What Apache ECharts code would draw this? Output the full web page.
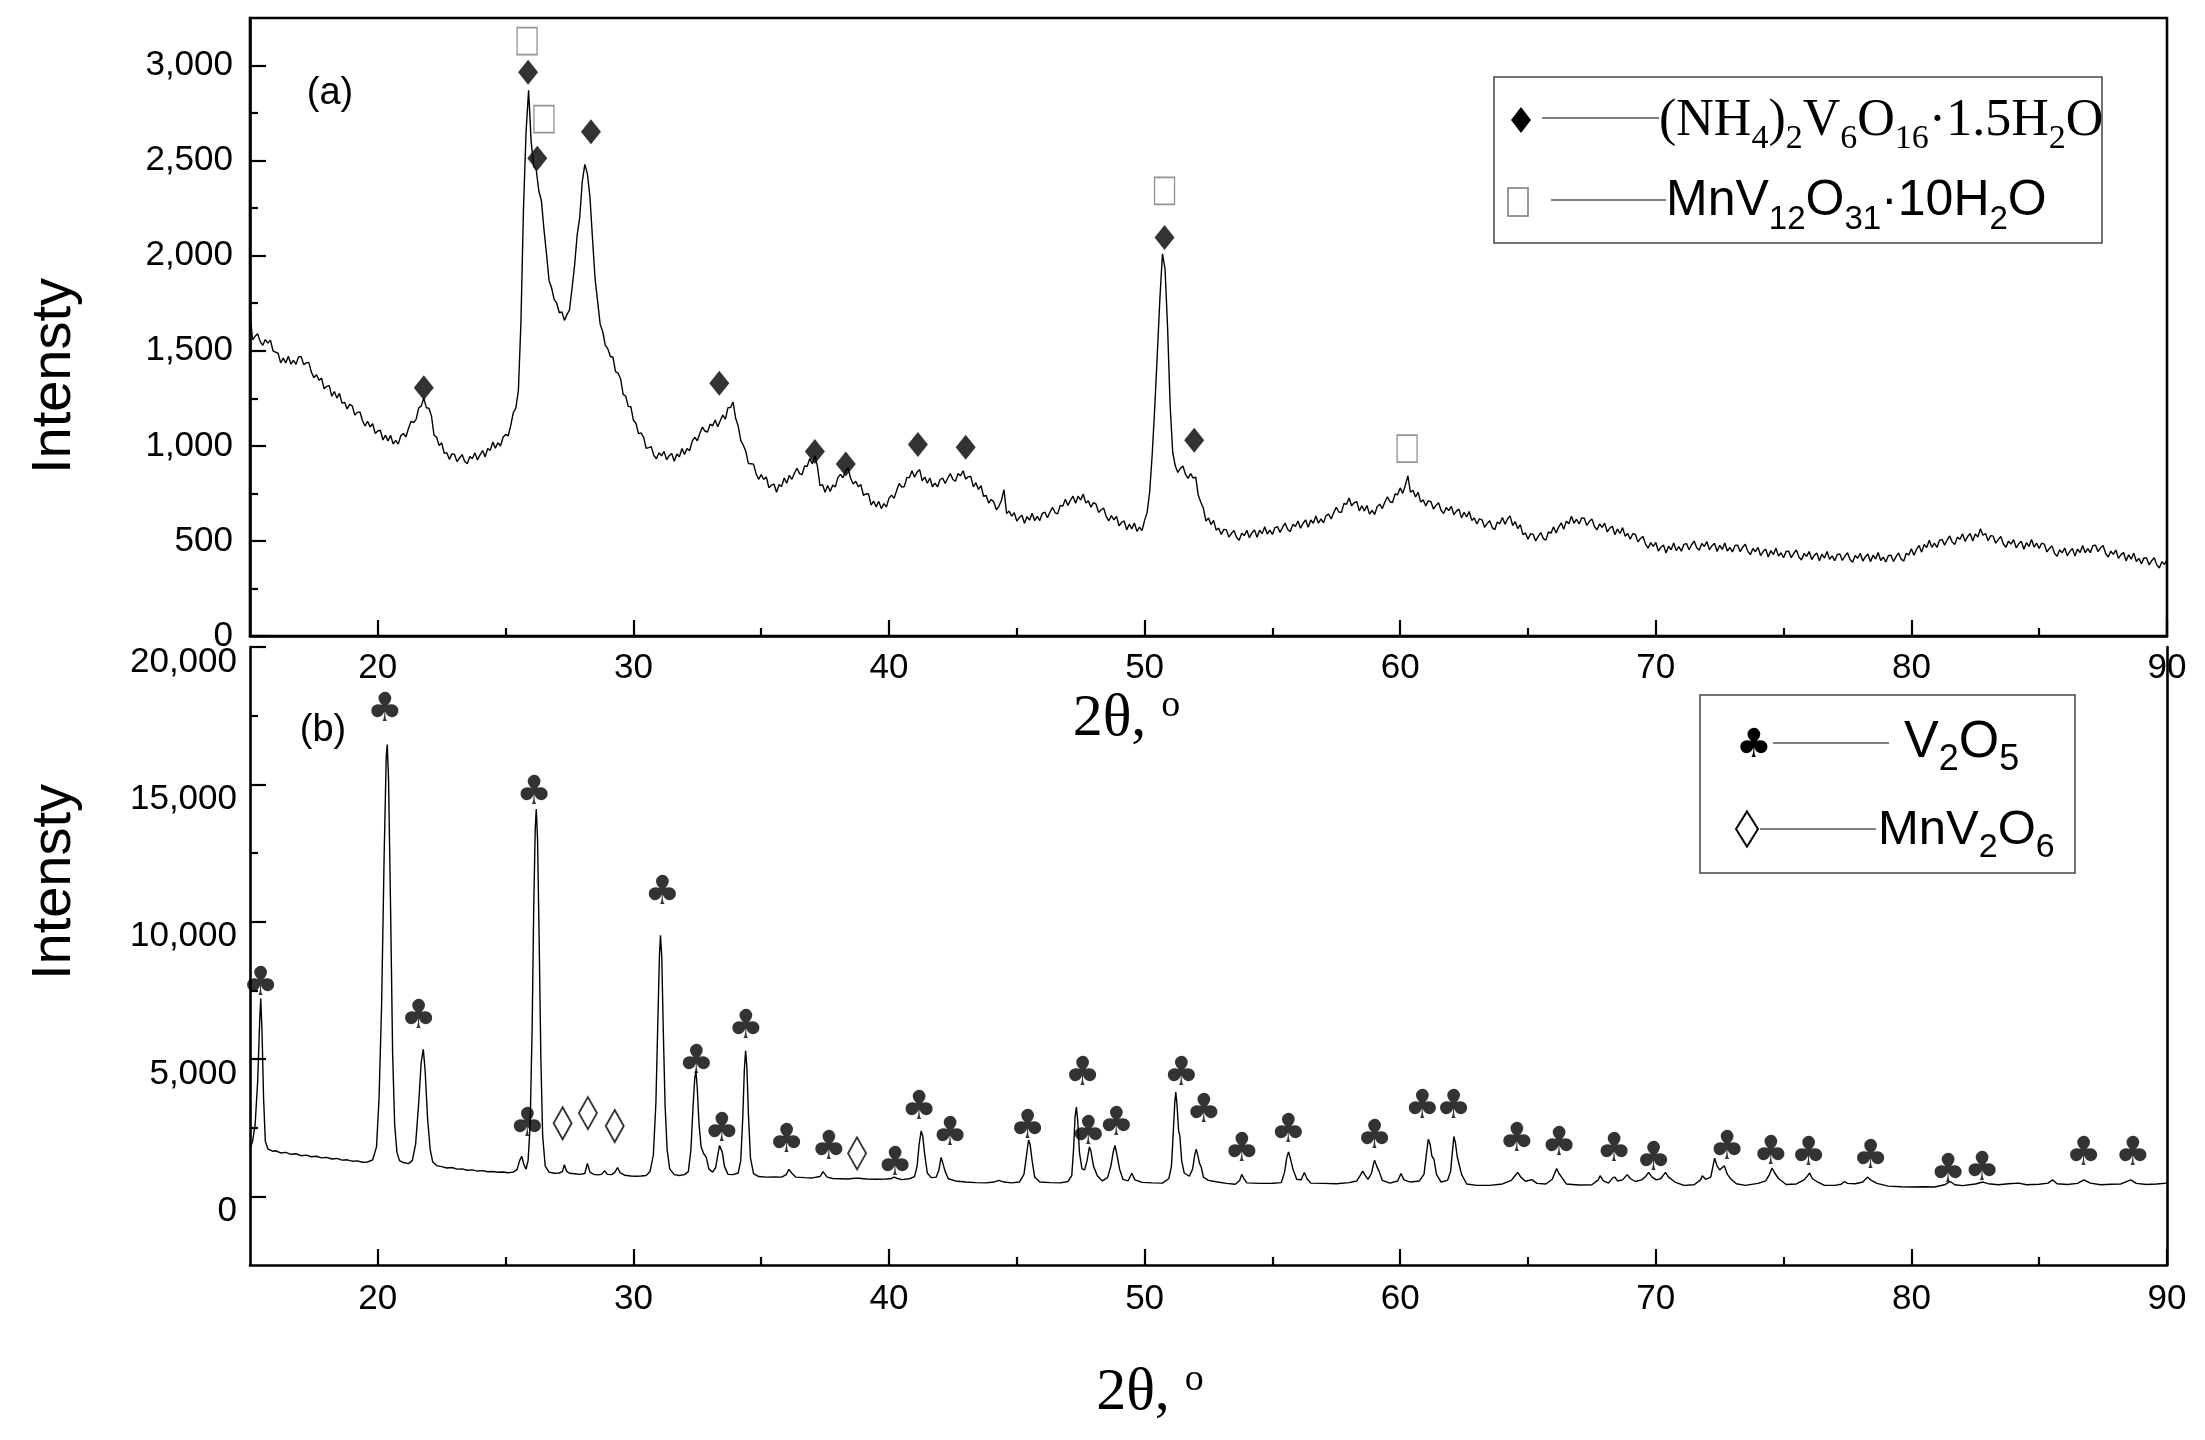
<!DOCTYPE html>
<html>
<head>
<meta charset="utf-8">
<title>XRD patterns (a) and (b)</title>
<script src="https://cdn.jsdelivr.net/npm/echarts@6.0.0/dist/echarts.min.js"></script>
<style>
  html, body { margin: 0; padding: 0; background: #fff; }
  #chart { width: 2205px; height: 1440px; }
</style>
</head>
<body>
<div id="chart"></div>
<script>
// data: (a) scan, [2theta, intensity]
const patternA = [
  [15.0,1700],[15.1,1557],[15.2,1576],[15.3,1589],[15.4,1548],[15.5,1529],[15.6,1559],[15.7,1540],[15.8,1556],[15.9,1500],
  [16.0,1493],[16.1,1487],[16.2,1436],[16.3,1461],[16.4,1436],[16.5,1471],[16.6,1430],[16.7,1449],[16.8,1429],[16.9,1468],
  [17.0,1470],[17.1,1427],[17.2,1436],[17.3,1439],[17.4,1388],[17.5,1359],[17.6,1374],[17.7,1345],[17.8,1356],[17.9,1300],
  [18.0,1313],[18.1,1317],[18.2,1261],[18.3,1286],[18.4,1251],[18.5,1276],[18.6,1225],[18.7,1229],[18.8,1194],[18.9,1218],
  [19.0,1210],[19.1,1162],[19.2,1176],[19.3,1179],[19.4,1133],[19.5,1104],[19.6,1129],[19.7,1100],[19.8,1116],[19.9,1065],
  [20.0,1078],[20.1,1082],[20.2,1031],[20.3,1056],[20.4,1026],[20.5,1056],[20.6,1010],[20.7,1029],[20.8,1009],[20.9,1053],
  [21.0,1065],[21.1,1047],[21.2,1091],[21.3,1129],[21.4,1123],[21.5,1139],[21.6,1199],[21.7,1210],[21.8,1251],[21.9,1200],
  [22.0,1198],[22.1,1157],[22.2,1056],[22.3,1046],[22.4,1001],[22.5,1016],[22.6,960],[22.7,964],[22.8,929],[22.9,958],
  [23.0,955],[23.1,917],[23.2,936],[23.3,954],[23.4,918],[23.5,906],[23.6,944],[23.7,933],[23.8,963],[23.9,926],
  [24.0,953],[24.1,975],[24.2,942],[24.3,986],[24.4,976],[24.5,1020],[24.6,988],[24.7,1016],[24.8,999],[24.9,1045],
  [25.0,1060],[25.1,1052],[25.2,1106],[25.3,1174],[25.4,1198],[25.5,1290],[25.6,1650],[25.7,2250],[25.8,2650],[25.9,2870],
  [26.0,2600],[26.1,2470],[26.2,2450],[26.3,2340],[26.4,2290],[26.5,2140],[26.6,2010],[26.7,1870],[26.8,1830],[26.9,1770],
  [27.0,1750],[27.1,1700],[27.2,1705],[27.3,1660],[27.4,1690],[27.5,1715],[27.6,1830],[27.7,1950],[27.8,2110],[27.9,2200],
  [28.0,2390],[28.1,2480],[28.2,2430],[28.3,2310],[28.4,2090],[28.5,1880],[28.6,1760],[28.7,1640],[28.8,1600],[28.9,1530],
  [29.0,1510],[29.1,1470],[29.2,1466],[29.3,1390],[29.4,1383],[29.5,1352],[29.6,1271],[29.7,1261],[29.8,1206],[29.9,1206],
  [30.0,1135],[30.1,1119],[30.2,1064],[30.3,1068],[30.4,1045],[30.5,987],[30.6,991],[30.7,996],[30.8,950],[30.9,932],
  [31.0,964],[31.1,947],[31.2,971],[31.3,927],[31.4,948],[31.5,960],[31.6,919],[31.7,957],[31.8,943],[31.9,986],
  [32.0,955],[32.1,986],[32.2,974],[32.3,1025],[32.4,1045],[32.5,1027],[32.6,1066],[32.7,1099],[32.8,1078],[32.9,1072],
  [33.0,1114],[33.1,1105],[33.2,1136],[33.3,1100],[33.4,1133],[33.5,1162],[33.6,1141],[33.7,1201],[33.8,1201],[33.9,1231],
  [34.0,1145],[34.1,1104],[34.2,1029],[34.3,1003],[34.4,970],[34.5,907],[34.6,906],[34.7,904],[34.8,853],[34.9,824],
  [35.0,849],[35.1,823],[35.2,836],[35.3,780],[35.4,793],[35.5,799],[35.6,756],[35.7,796],[35.8,786],[35.9,831],
  [36.0,803],[36.1,845],[36.2,824],[36.3,856],[36.4,882],[36.5,854],[36.6,849],[36.7,894],[36.8,893],[36.9,933],
  [37.0,905],[37.1,948],[37.2,892],[37.3,791],[37.4,796],[37.5,756],[37.6,791],[37.7,760],[37.8,794],[37.9,784],
  [38.0,833],[38.1,850],[38.2,832],[38.3,868],[38.4,884],[38.5,828],[38.6,799],[38.7,814],[38.8,785],[38.9,796],
  [39.0,740],[39.1,748],[39.2,747],[39.3,688],[39.4,709],[39.5,679],[39.6,708],[39.7,670],[39.8,696],[39.9,679],
  [40.0,725],[40.1,740],[40.2,724],[40.3,766],[40.4,802],[40.5,783],[40.6,786],[40.7,834],[40.8,833],[40.9,869],
  [41.0,835],[41.1,863],[41.2,875],[41.3,816],[41.4,836],[41.5,803],[41.6,831],[41.7,785],[41.8,804],[41.9,784],
  [42.0,823],[42.1,830],[42.2,802],[42.3,831],[42.4,854],[42.5,823],[42.6,814],[42.7,854],[42.8,843],[42.9,869],
  [43.0,825],[43.1,838],[43.2,839],[43.3,784],[43.4,806],[43.5,771],[43.6,791],[43.7,735],[43.8,739],[43.9,699],
  [44.0,718],[44.1,705],[44.2,664],[44.3,682],[44.4,714],[44.5,770],[44.6,644],[44.7,657],[44.8,630],[44.9,649],
  [45.0,604],[45.1,623],[45.2,635],[45.3,593],[45.4,628],[45.5,609],[45.6,646],[45.7,607],[45.8,629],[45.9,607],
  [46.0,645],[46.1,651],[46.2,622],[46.3,652],[46.4,676],[46.5,648],[46.6,642],[46.7,687],[46.8,683],[46.9,719],
  [47.0,686],[47.1,715],[47.2,735],[47.3,698],[47.4,736],[47.5,715],[47.6,746],[47.7,699],[47.8,711],[47.9,677],
  [48.0,701],[48.1,693],[48.2,650],[48.3,664],[48.4,672],[48.5,628],[48.6,606],[48.7,633],[48.8,611],[48.9,629],
  [49.0,580],[49.1,597],[49.2,605],[49.3,558],[49.4,588],[49.5,563],[49.6,594],[49.7,550],[49.8,572],[49.9,554],
  [50.0,608],[50.1,650],[50.2,760],[50.3,960],[50.4,1210],[50.5,1490],[50.6,1780],[50.7,2010],[50.8,1930],[50.9,1620],
  [51.0,1210],[51.1,965],[51.2,895],[51.3,860],[51.4,881],[51.5,894],[51.6,850],[51.7,829],[51.8,854],[51.9,830],
  [52.0,836],[52.1,740],[52.2,703],[52.3,672],[52.4,604],[52.5,621],[52.6,586],[52.7,608],[52.8,557],[52.9,567],
  [53.0,534],[53.1,561],[53.2,558],[53.3,520],[53.4,540],[53.5,555],[53.6,518],[53.7,504],[53.8,540],[53.9,528],
  [54.0,556],[54.1,517],[54.2,542],[54.3,558],[54.4,519],[54.5,556],[54.6,538],[54.7,575],[54.8,536],[54.9,557],
  [55.0,534],[55.1,570],[55.2,575],[55.3,545],[55.4,572],[55.5,593],[55.6,560],[55.7,549],[55.8,587],[55.9,576],
  [56.0,605],[56.1,567],[56.2,593],[56.3,610],[56.4,572],[56.5,610],[56.6,593],[56.7,631],[56.8,593],[56.9,616],
  [57.0,595],[57.1,633],[57.2,641],[57.3,616],[57.4,649],[57.5,677],[57.6,652],[57.7,650],[57.8,697],[57.9,693],
  [58.0,726],[58.1,685],[58.2,701],[58.3,707],[58.4,658],[58.5,685],[58.6,657],[58.7,686],[58.8,641],[58.9,660],
  [59.0,639],[59.1,681],[59.2,693],[59.3,670],[59.4,704],[59.5,732],[59.6,706],[59.7,702],[59.8,747],[59.9,743],
  [60.0,779],[60.1,750],[60.2,793],[60.3,842],[60.4,756],[60.5,766],[60.6,731],[60.7,756],[60.8,705],[60.9,716],
  [61.0,684],[61.1,711],[61.2,707],[61.3,668],[61.4,687],[61.5,701],[61.6,661],[61.7,644],[61.8,676],[61.9,659],
  [62.0,682],[62.1,638],[62.2,657],[62.3,667],[62.4,621],[62.5,651],[62.6,626],[62.7,655],[62.8,608],[62.9,621],
  [63.0,589],[63.1,616],[63.2,611],[63.3,572],[63.4,591],[63.5,606],[63.6,570],[63.7,559],[63.8,599],[63.9,591],
  [64.0,623],[64.1,588],[64.2,615],[64.3,632],[64.4,581],[64.5,601],[64.6,565],[64.7,586],[64.8,533],[64.9,542],
  [65.0,509],[65.1,537],[65.2,535],[65.3,500],[65.4,524],[65.5,544],[65.6,512],[65.7,504],[65.8,547],[65.9,541],
  [66.0,575],[66.1,542],[66.2,573],[66.3,595],[66.4,562],[66.5,604],[66.6,590],[66.7,630],[66.8,593],[66.9,614],
  [67.0,589],[67.1,621],[67.2,619],[67.3,582],[67.4,602],[67.5,616],[67.6,576],[67.7,558],[67.8,589],[67.9,571],
  [68.0,593],[68.1,548],[68.2,567],[68.3,577],[68.4,532],[68.5,563],[68.6,539],[68.7,570],[68.8,525],[68.9,539],
  [69.0,509],[69.1,538],[69.2,534],[69.3,495],[69.4,513],[69.5,524],[69.6,482],[69.7,462],[69.8,491],[69.9,471],
  [70.0,492],[70.1,447],[70.2,467],[70.3,479],[70.4,437],[70.5,472],[70.6,453],[70.7,489],[70.8,449],[70.9,470],
  [71.0,446],[71.1,482],[71.2,486],[71.3,454],[71.4,480],[71.5,499],[71.6,464],[71.7,451],[71.8,486],[71.9,471],
  [72.0,496],[72.1,454],[72.2,475],[72.3,487],[72.4,444],[72.5,477],[72.6,455],[72.7,489],[72.8,447],[72.9,466],
  [73.0,442],[73.1,476],[73.2,478],[73.3,444],[73.4,467],[73.5,483],[73.6,445],[73.7,428],[73.8,460],[73.9,443],
  [74.0,466],[74.1,423],[74.2,444],[74.3,457],[74.4,415],[74.5,449],[74.6,428],[74.7,462],[74.8,420],[74.9,438],
  [75.0,412],[75.1,445],[75.2,446],[75.3,412],[75.4,435],[75.5,452],[75.6,415],[75.7,400],[75.8,434],[75.9,419],
  [76.0,444],[76.1,402],[76.2,424],[76.3,437],[76.4,396],[76.5,430],[76.6,410],[76.7,444],[76.8,403],[76.9,421],
  [77.0,396],[77.1,429],[77.2,431],[77.3,397],[77.4,421],[77.5,438],[77.6,402],[77.7,388],[77.8,423],[77.9,409],
  [78.0,435],[78.1,394],[78.2,417],[78.3,431],[78.4,390],[78.5,425],[78.6,405],[78.7,439],[78.8,397],[78.9,415],
  [79.0,389],[79.1,423],[79.2,425],[79.3,392],[79.4,417],[79.5,437],[79.6,404],[79.7,394],[79.8,434],[79.9,426],
  [80.0,459],[80.1,425],[80.2,455],[80.3,476],[80.4,441],[80.5,481],[80.6,465],[80.7,504],[80.8,466],[80.9,488],
  [81.0,466],[81.1,503],[81.2,508],[81.3,478],[81.4,505],[81.5,526],[81.6,493],[81.7,482],[81.8,520],[81.9,509],
  [82.0,537],[82.1,498],[82.2,523],[82.3,539],[82.4,500],[82.5,537],[82.6,521],[82.7,564],[82.8,530],[82.9,539],
  [83.0,501],[83.1,528],[83.2,525],[83.3,488],[83.4,508],[83.5,523],[83.6,484],[83.7,467],[83.8,499],[83.9,483],
  [84.0,507],[84.1,464],[84.2,485],[84.3,498],[84.4,456],[84.5,491],[84.6,471],[84.7,507],[84.8,468],[84.9,488],
  [85.0,461],[85.1,489],[85.2,483],[85.3,442],[85.4,460],[85.5,474],[85.6,435],[85.7,419],[85.8,453],[85.9,438],
  [86.0,463],[86.1,422],[86.2,445],[86.3,460],[86.4,420],[86.5,457],[86.6,439],[86.7,476],[86.8,438],[86.9,460],
  [87.0,438],[87.1,475],[87.2,478],[87.3,444],[87.4,464],[87.5,476],[87.6,434],[87.7,415],[87.8,446],[87.9,429],
  [88.0,452],[88.1,408],[88.2,428],[88.3,439],[88.4,395],[88.5,427],[88.6,404],[88.7,436],[88.8,392],[88.9,408],
  [89.0,380],[89.1,411],[89.2,410],[89.3,374],[89.4,396],[89.5,412],[89.6,374],[89.7,358],[89.8,391],[89.9,376],
  [90.0,401]
]

// (a) peak marks: filled diamonds (NH4)2V6O16·1.5H2O, hollow squares MnV12O31·10H2O
const ammoniumPeaksA = [
  [21.8,1306],[25.88,2965],[26.24,2513],[28.34,2652],[33.36,1329],[37.1,970],
  [38.31,904],[41.13,1007],[43.0,993],[50.78,2096],[51.94,1030]
]
const hydratePeaksA = [[25.84,3129],[26.5,2718],[50.78,2341],[60.27,985]]

// data: (b) scan, [2theta, intensity]
const patternB = [
  [15.0,1750],[15.1,2000],[15.2,2600],[15.3,4200],[15.38,6400],[15.42,7200],[15.47,6000],[15.53,3600],[15.6,2000],[15.7,1720],
  [15.8,1680],[15.9,1640],[16.0,1660],[16.2,1580],[16.4,1600],[16.6,1530],[16.8,1550],[17.0,1480],[17.2,1500],[17.4,1440],
  [17.6,1460],[17.8,1400],[18.0,1420],[18.2,1360],[18.4,1380],[18.6,1320],[18.8,1330],[19.0,1280],[19.2,1290],[19.4,1240],
  [19.6,1250],[19.8,1330],[19.95,1800],[20.05,3600],[20.15,7000],[20.25,12500],[20.33,16000],[20.37,16450],[20.42,15200],[20.5,10500],
  [20.58,5200],[20.66,2600],[20.75,1600],[20.85,1300],[21.0,1230],[21.2,1190],[21.35,1300],[21.48,1900],[21.6,3400],[21.7,4900],
  [21.78,5350],[21.85,4600],[21.95,2800],[22.05,1700],[22.15,1250],[22.3,1120],[22.5,1080],[22.7,1030],[22.9,1050],[23.1,990],
  [23.3,1000],[23.5,950],[23.7,965],[23.9,920],[24.1,935],[24.3,895],[24.5,905],[24.7,875],[24.9,885],[25.1,860],
  [25.3,880],[25.45,980],[25.55,1300],[25.63,1460],[25.72,1150],[25.8,990],[25.88,1300],[25.96,2600],[26.04,6200],[26.1,10500],
  [26.16,13400],[26.2,14100],[26.25,13000],[26.31,9500],[26.38,5000],[26.45,2200],[26.55,1100],[26.7,880],[26.9,840],[27.1,850],
  [27.22,900],[27.3,1150],[27.38,920],[27.5,840],[27.7,820],[27.9,800],[28.1,830],[28.2,1200],[28.3,880],[28.45,800],
  [28.6,780],[28.75,800],[28.88,930],[28.98,800],[29.15,790],[29.28,880],[29.38,1050],[29.48,860],[29.65,770],[29.9,740],
  [30.1,730],[30.3,740],[30.5,760],[30.65,900],[30.78,1500],[30.88,3400],[30.96,6500],[31.02,8800],[31.06,9500],[31.11,8700],
  [31.17,6000],[31.24,3300],[31.32,1700],[31.42,1000],[31.6,790],[31.8,760],[32.0,790],[32.15,900],[32.25,1700],[32.33,3200],
  [32.4,4300],[32.45,4550],[32.5,3900],[32.57,2600],[32.65,1800],[32.75,1550],[32.85,1430],[32.95,1000],[33.1,880],[33.22,1050],
  [33.3,1500],[33.37,1850],[33.42,1900],[33.48,1600],[33.56,1100],[33.7,800],[33.9,790],[34.1,850],[34.2,1300],[34.28,2900],
  [34.34,4600],[34.39,5300],[34.44,4700],[34.5,3000],[34.58,1400],[34.7,830],[34.9,720],[35.2,700],[35.5,710],[35.8,700],
  [35.98,790],[36.08,980],[36.14,1000],[36.22,820],[36.35,700],[36.7,680],[37.0,670],[37.3,720],[37.42,900],[37.48,920],
  [37.58,700],[37.8,650],[38.1,640],[38.4,630],[38.65,660],[38.72,720],[38.82,660],[39.1,630],[39.5,620],[39.9,630],
  [40.1,650],[40.2,700],[40.3,660],[40.5,610],[40.8,640],[41.0,720],[41.1,1100],[41.18,1900],[41.26,2380],[41.32,2200],
  [41.4,1500],[41.5,850],[41.65,680],[41.85,700],[41.95,950],[42.04,1420],[42.1,1350],[42.2,900],[42.32,640],[42.6,560],
  [43.0,520],[43.4,500],[43.8,490],[44.1,520],[44.3,580],[44.5,520],[44.8,490],[45.1,520],[45.28,800],[45.38,1500],
  [45.46,2050],[45.52,1900],[45.6,1300],[45.7,700],[45.9,520],[46.3,500],[46.7,490],[47.0,540],[47.15,750],[47.22,1700],
  [47.28,2900],[47.33,3250],[47.38,2800],[47.45,1600],[47.55,1000],[47.65,960],[47.75,1300],[47.84,1800],[47.9,1650],[48.0,1100],
  [48.15,750],[48.35,560],[48.55,680],[48.68,1100],[48.78,1650],[48.84,1850],[48.92,1500],[49.02,1000],[49.15,620],[49.35,560],
  [49.5,840],[49.62,600],[49.9,510],[50.3,490],[50.7,480],[50.95,650],[51.05,1100],[51.12,2300],[51.18,3400],[51.22,3800],
  [51.27,3300],[51.33,2400],[51.38,2200],[51.45,1300],[51.55,850],[51.75,730],[51.88,1000],[51.96,1500],[52.02,1720],[52.08,1500],
  [52.15,1200],[52.22,1050],[52.3,700],[52.5,580],[52.8,530],[53.2,470],[53.55,440],[53.72,580],[53.8,800],[53.88,650],
  [54.0,490],[54.5,470],[55.0,475],[55.35,500],[55.48,900],[55.56,1400],[55.63,1620],[55.7,1400],[55.8,1000],[55.95,620],
  [56.12,600],[56.25,870],[56.35,650],[56.5,480],[57.0,470],[57.5,460],[58.0,500],[58.3,560],[58.45,780],[58.53,920],
  [58.63,760],[58.74,620],[58.88,850],[58.96,1200],[59.0,1310],[59.08,1100],[59.18,900],[59.3,580],[59.6,480],[59.9,560],
  [60.03,830],[60.15,600],[60.4,520],[60.75,560],[60.93,800],[61.02,1500],[61.1,2080],[61.17,1900],[61.24,1460],[61.32,1350],
  [61.42,800],[61.6,520],[61.85,580],[61.97,900],[62.05,1700],[62.1,2180],[62.16,1950],[62.23,1450],[62.3,1390],[62.4,800],
  [62.6,450],[63.0,400],[63.5,400],[64.0,450],[64.35,580],[64.5,760],[64.6,870],[64.72,700],[64.9,550],[65.15,610],
  [65.35,470],[65.7,450],[65.95,620],[66.05,850],[66.12,1010],[66.2,850],[66.3,720],[66.5,450],[67.0,410],[67.5,420],
  [67.75,600],[67.82,750],[67.95,560],[68.15,480],[68.32,680],[68.4,700],[68.5,560],[68.7,600],[68.88,790],[69.0,650],
  [69.2,540],[69.45,600],[69.6,720],[69.72,870],[69.85,700],[70.02,600],[70.2,650],[70.38,870],[70.5,700],[70.75,520],
  [71.1,400],[71.5,420],[71.75,600],[71.82,750],[71.95,620],[72.15,700],[72.3,1390],[72.4,1100],[72.5,960],[72.6,1050],
  [72.68,1110],[72.8,800],[72.95,620],[73.15,460],[73.5,400],[74.0,470],[74.3,560],[74.45,800],[74.55,1030],[74.65,850],
  [74.8,650],[75.1,430],[75.5,450],[75.8,600],[75.95,760],[76.02,850],[76.12,650],[76.3,540],[76.6,400],[77.0,400],
  [77.25,440],[77.38,540],[77.5,470],[77.8,460],[78.1,520],[78.28,700],[78.4,600],[78.65,470],[79.1,370],[79.6,350],
  [80.0,340],[80.5,350],[80.9,340],[81.3,420],[81.52,540],[81.7,420],[82.0,390],[82.5,450],[82.8,520],[83.0,460],
  [83.4,420],[83.8,460],[84.2,480],[84.5,420],[85.0,440],[85.35,480],[85.52,600],[85.7,460],[86.1,430],[86.5,470],
  [86.75,600],[87.0,480],[87.4,420],[87.8,440],[88.2,450],[88.58,600],[88.8,470],[89.2,430],[89.6,450],[90.0,480]
]

// (b) peak marks: clubs V2O5, hollow diamonds MnV2O6
const v2o5PeaksB = [
  [15.42,7725],[20.28,17700],[21.6,6525],[25.85,2560],[26.12,14670],[31.14,11010],[32.47,4855],[33.46,2400],
  [34.4,6160],[36.0,1980],[37.65,1720],[40.24,1150],[41.18,3180],[42.39,2245],[45.43,2505],[47.58,4435],
  [47.8,2300],[48.9,2610],[51.44,4435],[52.32,3080],[53.81,1670],[55.63,2350],[59.0,2140],[60.87,3235],
  [62.09,3235],[64.57,2035],[66.22,1880],[68.37,1670],[69.92,1355],[72.79,1720],[74.5,1565],[75.98,1515],
  [78.41,1410],[81.44,890],[82.77,990],[86.74,1515],[88.67,1515]
]
const mnv2o6PeaksB = [[27.23,2660],[28.22,3030],[29.27,2560],[38.75,1565]]

// ticks
const thetaTicks = [20, 30, 40, 50, 60, 70, 80, 90]
const thetaMinorTicks = [25, 35, 45, 55, 65, 75, 85]
const intensityTicksA = [0, 500, 1000, 1500, 2000, 2500, 3000]
const intensityMinorTicksA = [250, 750, 1250, 1750, 2250, 2750]
const intensityTicksB = [0, 5000, 10000, 15000, 20000]
const intensityMinorTicksB = [2500, 7500, 12500, 17500]

const black = '#000'
const axisStroke = { color: black, width: 2.6 }
const tickStroke = { color: black, width: 2.2 }
const sans = 'Liberation Sans'
const serif = 'Liberation Serif'

function withCommas(v) {
  return String(v).replace(/\B(?=(\d{3})+(?!\d))/g, ',')
}

function thetaAxes(gridIndex, labelMargin, nameGap, namePadRight) {
  const major = {
    gridIndex, type: 'value', min: 15, max: 90, position: 'bottom',
    axisLine: { show: true, onZero: false, lineStyle: axisStroke },
    axisTick: { show: true, inside: true, length: 16, customValues: thetaTicks, lineStyle: tickStroke },
    axisLabel: { show: true, customValues: thetaTicks, margin: labelMargin, color: black, fontFamily: sans, fontSize: 35 },
    splitLine: { show: false },
    name: '2θ, {sup|o}', nameLocation: 'middle', nameGap,
    nameTextStyle: {
      color: black, fontFamily: serif, fontSize: 60, lineHeight: 64,
      padding: [0, namePadRight, 0, 0],
      rich: { sup: { color: black, fontFamily: serif, fontSize: 38, lineHeight: 38, verticalAlign: 'top' } }
    }
  }
  const minor = {
    gridIndex, type: 'value', min: 15, max: 90, position: 'bottom',
    axisLine: { show: false, onZero: false },
    axisTick: { show: true, inside: true, length: 8, customValues: thetaMinorTicks, lineStyle: tickStroke },
    axisLabel: { show: false },
    splitLine: { show: false }
  }
  return [major, minor]
}

function intensityAxes(gridIndex, min, max, ticks, minorTicks, labelMargin, labelDrop) {
  const label = {
    show: true, customValues: ticks, margin: labelMargin, color: black, fontFamily: sans, fontSize: 35,
    formatter: withCommas
  }
  // labels of panel (b) sit a little below their ticks
  if (labelDrop) Object.assign(label, { verticalAlign: 'top', lineHeight: labelDrop * 2 })
  const major = {
    gridIndex, type: 'value', min, max, position: 'left',
    axisLine: { show: true, onZero: false, lineStyle: axisStroke },
    axisTick: { show: true, inside: true, length: 16, customValues: ticks, lineStyle: tickStroke },
    axisLabel: label,
    splitLine: { show: false }
  }
  const minor = {
    gridIndex, type: 'value', min, max, position: 'left',
    axisLine: { show: false, onZero: false },
    axisTick: { show: true, inside: true, length: 8, customValues: minorTicks, lineStyle: tickStroke },
    axisLabel: { show: false },
    splitLine: { show: false }
  }
  return [major, minor]
}

// right edge of panel (b): a bare line
const rightLineB = {
  gridIndex: 1, type: 'value', min: -2500, max: 20000, position: 'right',
  axisLine: { show: true, onZero: false, lineStyle: axisStroke },
  axisTick: { show: false }, axisLabel: { show: false }, splitLine: { show: false }
}

function txt(x, y, text, size, family, extra) {
  return {
    type: 'text', x, y, z: 20, silent: true, ...(extra && extra.el),
    style: Object.assign({ text, fontSize: size, fontFamily: family, fill: black, align: 'center', verticalAlign: 'middle' }, extra && extra.style)
  }
}

function formula(x, y, text, family, size, subSize) {
  return {
    type: 'text', x, y, z: 20, silent: true,
    style: {
      text, fontFamily: family, fontSize: size, lineHeight: 70, fill: black, align: 'left', verticalAlign: 'middle',
      rich: { s: { fontFamily: family, fontSize: subSize, lineHeight: subSize, verticalAlign: 'bottom', fill: black } }
    }
  }
}

function diamondShape(cx, cy, w, h) {
  return [[cx, cy - h / 2], [cx + w / 2, cy], [cx, cy + h / 2], [cx - w / 2, cy]]
}

const legendStroke = { fill: 'none', stroke: '#444', lineWidth: 1.5 }
const legendLine = { stroke: '#555', lineWidth: 1.5 }

const graphic = [
  txt(55, 376, 'Intensty', 56, sans, { el: { rotation: Math.PI / 2 } }),
  txt(55, 882, 'Intensty', 56, sans, { el: { rotation: Math.PI / 2 } }),
  txt(330, 94, '(a)', 38, sans),
  txt(323, 731, '(b)', 38, sans),

  // legend (a)
  { type: 'rect', z: 20, silent: true, shape: { x: 1494, y: 77, width: 608, height: 166 }, style: legendStroke },
  { type: 'polygon', z: 20, silent: true, shape: { points: diamondShape(1521, 120, 20, 26) }, style: { fill: black } },
  { type: 'line', z: 20, silent: true, shape: { x1: 1542, y1: 118, x2: 1659, y2: 118 }, style: legendLine },
  formula(1659, 121, '(NH{s|4}){s|2}V{s|6}O{s|16}·1.5H{s|2}O', serif, 52, 34),
  { type: 'rect', z: 20, silent: true, shape: { x: 1508, y: 188, width: 20, height: 28 }, style: { fill: '#fff', stroke: '#777', lineWidth: 1.5 } },
  { type: 'line', z: 20, silent: true, shape: { x1: 1551, y1: 200, x2: 1666, y2: 200 }, style: legendLine },
  formula(1666, 201, 'MnV{s|12}O{s|31}·10H{s|2}O', sans, 50, 33),

  // legend (b)
  { type: 'rect', z: 20, silent: true, shape: { x: 1700, y: 695, width: 375, height: 178 }, style: legendStroke },
  txt(1754, 747, '♣', 40, 'DejaVu Sans'),
  { type: 'line', z: 20, silent: true, shape: { x1: 1773, y1: 743, x2: 1889, y2: 743 }, style: legendLine },
  formula(1904, 743, 'V{s|2}O{s|5}', sans, 52, 36),
  { type: 'polygon', z: 20, silent: true, shape: { points: diamondShape(1747, 829, 22, 35) }, style: { fill: '#fff', stroke: black, lineWidth: 2 } },
  { type: 'line', z: 20, silent: true, shape: { x1: 1760, y1: 829, x2: 1876, y2: 829 }, style: legendLine },
  formula(1878, 830, 'MnV{s|2}O{s|6}', sans, 49, 34)
]

const chart = echarts.init(document.getElementById('chart'), null, { renderer: 'canvas' })

chart.setOption({
  animation: false,
  backgroundColor: '#fff',
  textStyle: { fontFamily: sans, color: black },
  grid: [
    { left: 250, right: 38, top: 18, height: 618, show: true, borderColor: black, borderWidth: 2.6, backgroundColor: 'transparent', outerBoundsMode: 'none' },
    { left: 250, right: 38, top: 647, height: 618, show: false, outerBoundsMode: 'none' }
  ],
  xAxis: [
    ...thetaAxes(0, 15, 46, 164),
    ...thetaAxes(1, 17, 96, 117)
  ],
  yAxis: [
    ...intensityAxes(0, 0, 3250, intensityTicksA, intensityMinorTicksA, 17, 0),
    ...intensityAxes(1, -2500, 20000, intensityTicksB, intensityMinorTicksB, 13, 15),
    rightLineB
  ],
  series: [
    {
      name: 'pattern (a)', type: 'line', xAxisIndex: 0, yAxisIndex: 0, data: patternA,
      symbol: 'none', showSymbol: false, silent: true, lineStyle: { color: black, width: 1.4 }, z: 2
    },
    {
      name: '(NH4)2V6O16·1.5H2O', type: 'scatter', xAxisIndex: 0, yAxisIndex: 0, data: ammoniumPeaksA,
      symbol: 'diamond', symbolSize: [20, 25], itemStyle: { color: black }, silent: true, z: 5
    },
    {
      name: 'MnV12O31·10H2O', type: 'scatter', xAxisIndex: 0, yAxisIndex: 0, data: hydratePeaksA,
      symbol: 'rect', symbolSize: [20, 27], itemStyle: { color: '#fff', borderColor: '#777', borderWidth: 1.5 }, silent: true, z: 5
    },
    {
      name: 'pattern (b)', type: 'line', xAxisIndex: 2, yAxisIndex: 2, data: patternB,
      symbol: 'none', showSymbol: false, silent: true, lineStyle: { color: black, width: 1.4 }, z: 2
    },
    {
      name: 'V2O5', type: 'scatter', xAxisIndex: 2, yAxisIndex: 2, data: v2o5PeaksB,
      symbol: 'circle', symbolSize: 1, itemStyle: { color: 'rgba(0,0,0,0)' }, silent: true, z: 5,
      label: { show: true, position: 'inside', formatter: '♣', fontFamily: 'DejaVu Sans', fontSize: 40, color: black }
    },
    {
      name: 'MnV2O6', type: 'scatter', xAxisIndex: 2, yAxisIndex: 2, data: mnv2o6PeaksB,
      symbol: 'diamond', symbolSize: [18, 32], itemStyle: { color: '#fff', borderColor: black, borderWidth: 2 }, silent: true, z: 5
    }
  ],
  graphic
})
</script>
</body>
</html>
